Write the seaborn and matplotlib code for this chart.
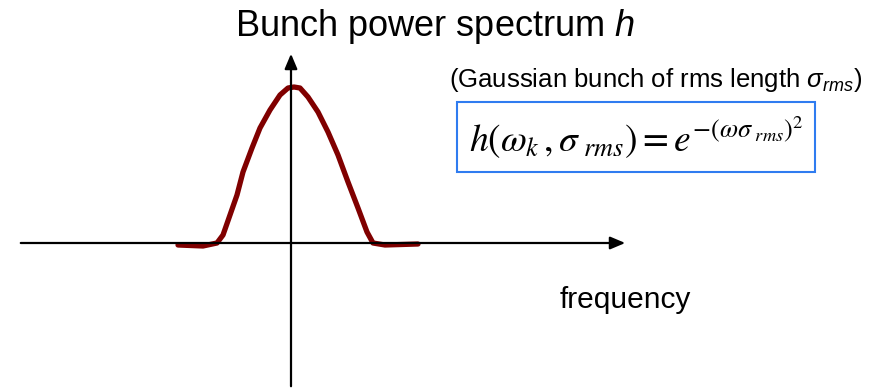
import matplotlib
matplotlib.use('Agg')
import matplotlib.pyplot as plt
import seaborn as sns
import pandas as pd

# hand-drawn spectrum curve (pixel-like units, y down)
curve_x = [178, 203, 217, 223, 230, 237, 243, 252, 260, 270, 280, 288, 294,
           300, 308, 318, 328, 338, 348, 358, 367, 373, 385, 418]
curve_y = [245, 246, 243, 235, 215, 195, 172, 148, 128, 110, 95, 88, 87,
           88, 97, 112, 132, 155, 182, 208, 232, 243, 245, 244]

title_text = 'Bunch power spectrum $h$'
xlabel_text = 'frequency'
note_text = r'(Gaussian bunch of rms length $\sigma_{rms}$)'
formula_text = r'$h\left(\omega_k\,,\sigma_{\ rms}\right)=e^{-\left(\omega\sigma_{\ rms}\right)^2}$'

sns.set_style('white')
plt.rcParams['font.family'] = ['Liberation Sans', 'DejaVu Sans']
plt.rcParams['text.color'] = 'black'
plt.rcParams['mathtext.fontset'] = 'custom'
plt.rcParams['mathtext.it'] = 'Liberation Sans:italic'

fig = plt.figure(figsize=(8.81, 3.89), dpi=100)
ax = fig.add_axes([0, 0, 1, 1])
ax.set_xlim(0, 881)
ax.set_ylim(389, 0)
ax.axis('off')

# axes with arrows
ax.annotate('', xy=(628, 243), xytext=(18, 243),
            arrowprops=dict(arrowstyle='-|>,head_length=0.9,head_width=0.38', color='black', lw=1.6))
ax.annotate('', xy=(291, 51), xytext=(291, 389),
            arrowprops=dict(arrowstyle='-|>,head_length=0.9,head_width=0.38', color='black', lw=1.6))

df = pd.DataFrame({'x': curve_x, 'y': curve_y})
sns.lineplot(data=df, x='x', y='y', ax=ax, color='#800000', lw=3.8, sort=False,
             solid_capstyle='round', solid_joinstyle='round')

ax.text(435, 26, title_text, fontsize=26, ha='center', va='center')
ax.text(625, 300, xlabel_text, fontsize=21.5, ha='center', va='center')
ax.text(656, 80, note_text, fontsize=18.5, ha='center', va='center')

with plt.rc_context({'mathtext.fontset': 'stix'}):
    ax.text(636, 137, formula_text, fontsize=27, ha='center', va='center',
            bbox=dict(boxstyle='square,pad=0.3', fc='white', ec='#2f7cf0', lw=1.5))

plt.savefig('out.png', dpi=100)
